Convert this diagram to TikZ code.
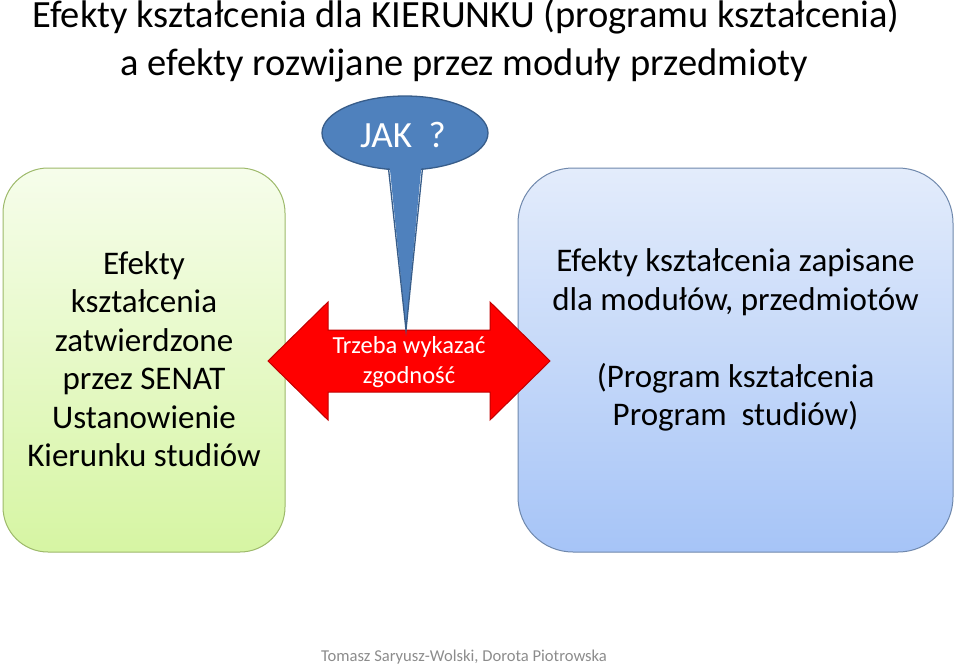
\documentclass[tikz,border=0pt]{standalone}
\usepackage{fontspec}
\setmainfont{Carlito}
\usetikzlibrary{shapes.geometric}
\definecolor{gbord}{HTML}{9DB96A}
\definecolor{gtop}{HTML}{F6FDEB}
\definecolor{gbot}{HTML}{D6F5A3}
\definecolor{bbord}{HTML}{6F88AC}
\definecolor{btop}{HTML}{E3ECFB}
\definecolor{bbot}{HTML}{A6C4F7}
\definecolor{ellfill}{HTML}{4F81BD}
\definecolor{ellbord}{HTML}{385D8A}
\definecolor{arrfill}{HTML}{FF0000}
\definecolor{arrbord}{HTML}{C00000}
\definecolor{foot}{HTML}{8C8C8C}
\tikzset{
  titletext/.style={anchor=base, font=\fontsize{38.5}{44}\selectfont, text=black, inner sep=0pt},
  boxtext/.style={align=center, font=\fontsize{33}{38.5}\selectfont, text=black, inner sep=0pt},
  greenbox/.style={draw=gbord, line width=1pt, rounded corners=45pt, top color=gtop, bottom color=gbot, minimum width=282pt, minimum height=384pt, inner sep=0pt},
  bluebox/.style={draw=bbord, line width=1pt, rounded corners=55pt, top color=btop, bottom color=bbot, minimum width=435pt, minimum height=384pt, inner sep=0pt},
  arrowtext/.style={align=center, font=\fontsize{24.5}{30.5}\selectfont, text=white, inner sep=0pt},
  jaktext/.style={font=\fontsize{37}{40}\selectfont, text=white, inner sep=0pt},
}
\begin{document}
\begin{tikzpicture}[x=1pt,y=-1pt]
\useasboundingbox (0,0) rectangle (959,665);
% title
\node[titletext] (t1) at (466,27) {Efekty kształcenia dla KIERUNKU (programu kształcenia)};
\node[titletext] (t2) at (464,75) {a efekty rozwijane przez moduły przedmioty};
% boxes
\node[greenbox] (gb) at (144,360) {};
\node[boxtext] (gt) at (144,359) {Efekty\\kształcenia\\zatwierdzone\\przez SENAT\\Ustanowienie\\Kierunku studiów};
\node[bluebox] (bb) at (735.5,360) {};
\node[boxtext] (bt) at (735.5,340) {Efekty kształcenia zapisane\\dla modułów, przedmiotów\\[38.5pt](Program kształcenia\\Program\ \ studiów)};
% double arrow
\coordinate (ltip) at (268,361);
\coordinate (rtip) at (550,361);
\coordinate (ptip) at (406,330);
\draw[fill=arrfill, draw=arrbord, line width=1pt, line join=miter]
  (ltip) -- (328,302) -- (328,330) -- (ptip) -- (490,330) -- (490,302) -- (rtip) -- (490,420) -- (490,392) -- (328,392) -- (328,420) -- cycle;
\node[arrowtext] (at) at (409,362) {Trzeba wykazać\\zgodność};
% callout
\node[ellipse, draw=ellbord, fill=ellfill, line width=1.3pt, minimum width=166pt, minimum height=74pt, inner sep=0pt] (ell) at (405,133) {};
\fill[ellfill] (389,160) -- (ptip) -- (422,160) -- cycle;
\draw[ellbord, line width=1.3pt, line join=miter] (388.5,168.5) -- (ptip) -- (422.5,168.5);
\node[jaktext, anchor=base] (jak) at (403,147) {JAK\ \ ?};
% footer
\node[anchor=base, font=\fontsize{16.6}{18}\selectfont, text=foot, inner sep=0pt] (ft) at (464,661) {Tomasz Saryusz-Wolski, Dorota Piotrowska};
\end{tikzpicture}
\end{document}
